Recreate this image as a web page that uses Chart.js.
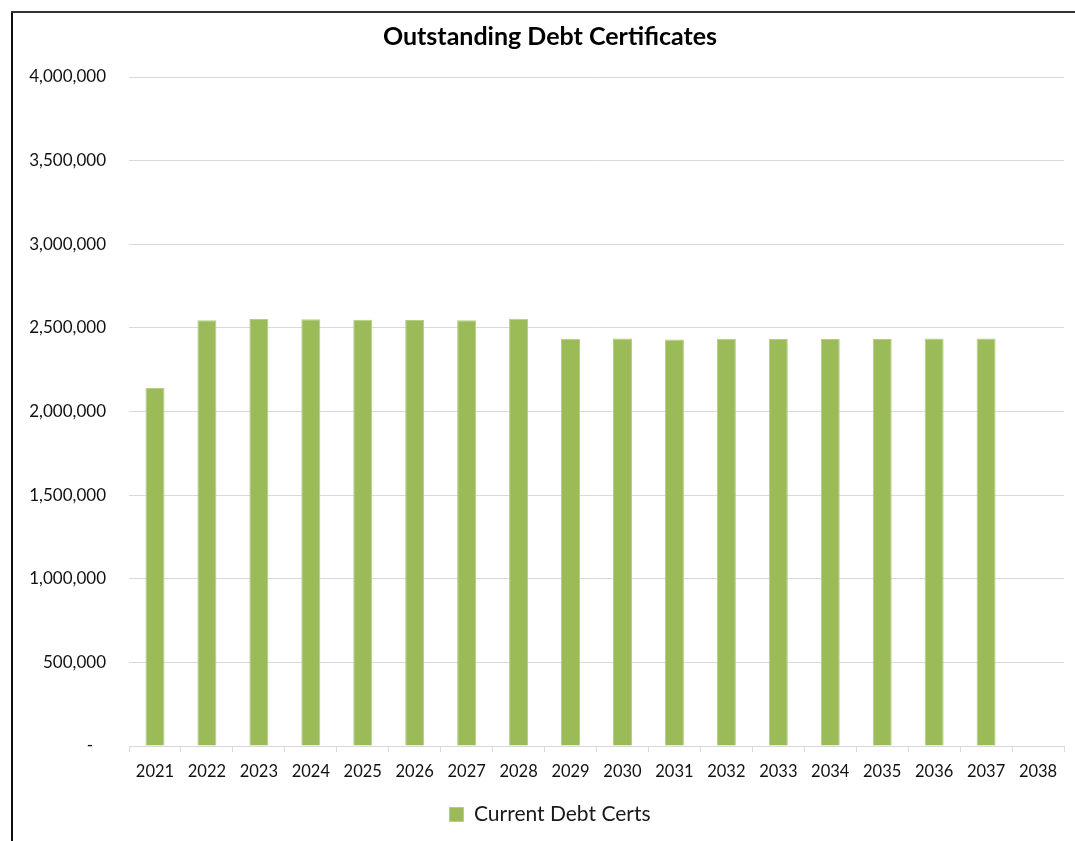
<!DOCTYPE html>
<html>
<head>
<meta charset="utf-8">
<script src="https://cdn.jsdelivr.net/npm/chart.js@4"></script>
<style>
  html, body { margin: 0; padding: 0; width: 1075px; height: 841px; overflow: hidden; background: #fff; }
  #lineL { position: absolute; left: 11px; top: 11px; width: 2px; height: 830px; background: #111; }
  #lineT { position: absolute; left: 11px; top: 11px; width: 1064px; height: 2px; background: #333; }
  #wrap { position: absolute; left: 12px; top: 12px; width: 1063px; height: 829px; }
</style>
</head>
<body>
<div id="lineL"></div>
<div id="lineT"></div>
<div id="wrap"><canvas id="c" width="1063" height="829"></canvas></div>
<script>
const categories = ['2021','2022','2023','2024','2025','2026','2027','2028','2029','2030','2031','2032','2033','2034','2035','2036','2037','2038'];
const currentDebtCerts = [2140000, 2545000, 2553000, 2551000, 2548000, 2547000, 2545000, 2555000, 2435000, 2437000, 2431000, 2435000, 2433000, 2433000, 2433000, 2437000, 2437000, null];
const seriesName = 'Current Debt Certs';
const chartTitle = 'Outstanding Debt Certificates';
const yMin = 0, yMax = 4000000, yStep = 500000;

const FONT = 'Lato, "Open Sans", "DejaVu Sans", sans-serif';

new Chart(document.getElementById('c'), {
  type: 'bar',
  data: {
    labels: categories,
    datasets: [{
      label: seriesName,
      data: currentDebtCerts,
      backgroundColor: '#9BBB59',
      borderColor: '#b5cc86',
      borderWidth: 1,
      categoryPercentage: 0.366,
      barPercentage: 1
    }]
  },
  options: {
    responsive: false,
    animation: false,
    layout: { padding: { left: 13, right: 0, top: 0, bottom: 6 } },
    plugins: {
      title: {
        display: true,
        text: chartTitle,
        color: '#000',
        font: { family: FONT, size: 25, weight: 'bold' },
        padding: { top: 10, bottom: 25 }
      },
      legend: {
        position: 'bottom',
        labels: {
          color: '#1a1a1a',
          font: { family: FONT, size: 21 },
          boxWidth: 14,
          boxHeight: 14,
          padding: 10
        }
      },
      tooltip: { enabled: false }
    },
    scales: {
      x: {
        grid: { display: true, drawOnChartArea: false, drawTicks: true, tickLength: 6, color: '#d9d9d9', offset: true },
        border: { display: true, color: '#d9d9d9', width: 1 },
        ticks: { color: '#111', font: { family: FONT, size: 16.5 }, padding: 10, maxRotation: 0, autoSkip: false },
        afterFit: (s) => { s.height = 48; }
      },
      y: {
        min: yMin,
        max: yMax,
        ticks: {
          stepSize: yStep,
          color: '#111',
          font: { family: FONT, size: 17 },
          padding: 23,
          callback: (v) => v === 0 ? '-   ' : Number(v).toLocaleString('en-US')
        },
        grid: { color: '#d9d9d9', drawTicks: false, lineWidth: 1 },
        border: { display: false },
        afterFit: (s) => { s.width = 104; }
      },
      spacer: {
        type: 'linear',
        position: 'right',
        min: 0,
        max: 1,
        ticks: { display: false },
        grid: { display: false, drawTicks: false },
        border: { display: false },
        afterFit: (s) => { s.width = 11; }
      }
    }
  }
});
</script>
</body>
</html>
